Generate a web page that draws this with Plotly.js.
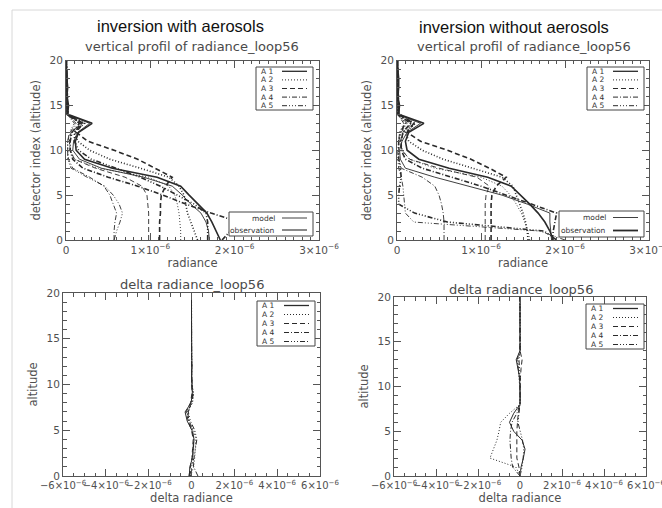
<!DOCTYPE html>
<html><head><meta charset="utf-8">
<script src="https://cdn.plot.ly/plotly-3.0.1.min.js"></script>
<style>html,body{margin:0;padding:0;background:#fff}#chart{width:662px;height:508px}</style>
</head><body><div id="chart"></div>
<script>
// ---------- DATA (radiance values in units of 1e-6) ----------
const altitudeIndex = [0,1,2,3,4,5,6,7,8,9,10,11,12,13,14,15,16,17,18,19,20];
const seriesNames = ["A 1","A 2","A 3","A 4","A 5"];
const kindNames = ["model","observation"];
const panelHeaders = ["inversion with aerosols","inversion without aerosols"];
const profileTitle = "vertical profil of radiance_loop56";
const deltaTitle = "delta radiance_loop56";
const unitScale = 1e-6;

// with aerosols – radiance profiles
const withAerObs_A1 = [1.83,1.78,1.73,1.67,1.56,1.46,1.36,1.08,0.55,0.22,0.12,0.11,0.15,0.31,0.02,0.03,0.01,0.02,0.01,0.00,0.01];
const withAerMod_A1 = [1.70,1.69,1.66,1.60,1.48,1.38,1.26,0.92,0.42,0.16,0.08,0.09,0.14,0.28,0.01,0.02,0.02,0.01,0.02,0.01,0.00];
const withAerObs_A2 = [1.56,1.52,1.48,1.44,1.42,1.40,1.34,1.22,0.88,0.52,0.28,0.14,0.10,0.22,0.03,0.01,0.02,0.01,0.00,0.01,0.00];
const withAerMod_A2 = [1.36,1.36,1.35,1.34,1.32,1.29,1.22,0.98,0.38,0.10,0.05,0.04,0.08,0.20,0.02,0.02,0.01,0.01,0.01,0.00,0.00];
const withAerObs_A3 = [1.11,1.11,1.11,1.12,1.12,1.13,1.18,1.26,1.05,0.85,0.57,0.26,0.12,0.20,0.02,0.02,0.01,0.01,0.01,0.01,0.00];
const withAerMod_A3 = [0.98,0.98,0.98,0.98,0.97,0.96,0.90,0.70,0.35,0.10,0.05,0.04,0.06,0.18,0.01,0.01,0.02,0.00,0.01,0.00,0.00];
const withAerObs_A4 = [1.85,1.95,2.05,1.72,1.42,1.15,0.85,0.50,0.20,0.08,0.05,0.05,0.07,0.16,0.01,0.02,0.01,0.01,0.00,0.00,0.00];
const withAerMod_A4 = [0.57,0.57,0.58,0.60,0.56,0.52,0.45,0.28,0.08,0.03,0.02,0.02,0.05,0.12,0.01,0.00,0.01,0.00,0.00,0.00,0.00];
const withAerObs_A5 = [1.68,1.68,1.68,1.66,1.52,1.32,1.12,0.88,0.58,0.30,0.15,0.10,0.10,0.18,0.02,0.01,0.01,0.01,0.00,0.01,0.00];
const withAerMod_A5 = [0.57,0.60,0.64,0.67,0.63,0.56,0.46,0.25,0.06,0.02,0.02,0.02,0.04,0.10,0.01,0.01,0.00,0.00,0.00,0.00,0.00];

// without aerosols – radiance profiles
const noAerObs_A1 = [1.86,1.82,1.76,1.68,1.58,1.47,1.36,1.08,0.62,0.26,0.12,0.10,0.14,0.32,0.02,0.03,0.01,0.02,0.02,0.01,0.01];
const noAerMod_A1 = [1.84,1.83,1.82,1.82,1.55,1.25,0.85,0.45,0.10,0.04,0.03,0.06,0.12,0.28,0.01,0.02,0.01,0.01,0.02,0.00,0.01];
const noAerObs_A2 = [1.56,1.55,1.53,1.50,1.46,1.42,1.38,1.25,0.90,0.55,0.30,0.14,0.10,0.22,0.03,0.01,0.02,0.01,0.00,0.01,0.00];
const noAerMod_A2 = [1.58,1.56,1.52,1.48,1.42,1.35,1.25,1.00,0.45,0.15,0.06,0.05,0.08,0.20,0.02,0.02,0.01,0.01,0.01,0.00,0.00];
const noAerObs_A3 = [1.12,1.12,1.12,1.12,1.12,1.13,1.18,1.30,1.10,0.88,0.60,0.28,0.12,0.20,0.02,0.02,0.01,0.01,0.01,0.01,0.00];
const noAerMod_A3 = [1.05,1.05,1.05,1.05,1.05,1.06,1.10,0.95,0.50,0.15,0.06,0.04,0.07,0.18,0.01,0.01,0.02,0.00,0.01,0.00,0.00];
const noAerObs_A4 = [1.85,1.86,1.88,1.90,1.60,1.30,1.00,0.65,0.30,0.10,0.05,0.05,0.07,0.16,0.01,0.02,0.01,0.01,0.00,0.00,0.00];
const noAerMod_A4 = [0.56,0.56,0.56,0.55,0.53,0.50,0.45,0.30,0.05,0.02,0.02,0.02,0.05,0.12,0.01,0.00,0.01,0.00,0.00,0.00,0.00];
const noAerObs_A5 = [1.90,1.75,0.60,0.21,0.02,0.02,0.03,0.05,0.04,0.02,0.02,0.02,0.04,0.10,0.01,0.01,0.00,0.00,0.00,0.00,0.00];
const noAerMod_A5 = [2.00,1.70,0.20,0.10,0.09,0.08,0.07,0.05,0.02,0.01,0.01,0.02,0.03,0.08,0.01,0.00,0.01,0.00,0.00,0.00,0.00];

// delta radiance (units of 1e-6)
const withAerDelta_A1 = [-0.10,-0.08,0.05,0.10,0.12,0.02,-0.20,-0.30,-0.02,0.04,0.02,0.01,0.02,0.01,0.00,0.01,0.00,0.00,0.00,0.00,0.00];
const withAerDelta_A2 = [-0.05,0.10,0.15,0.18,0.20,0.10,-0.10,-0.20,0.05,0.10,0.03,0.02,0.01,0.02,0.01,0.00,0.01,0.00,0.00,0.00,0.00];
const withAerDelta_A3 = [-0.12,-0.05,0.02,0.05,0.08,0.00,-0.15,-0.25,-0.05,0.02,0.00,0.01,0.00,0.01,0.00,0.00,0.00,0.00,0.00,0.00,0.00];
const withAerDelta_A4 = [0.30,0.10,0.05,0.08,0.10,0.05,-0.12,-0.18,0.00,0.06,0.01,0.00,0.02,0.00,0.01,0.00,0.00,0.00,0.00,0.00,0.00];
const withAerDelta_A5 = [-0.08,0.00,0.12,0.20,0.25,0.15,-0.05,-0.15,0.02,0.08,0.02,0.01,0.01,0.00,0.00,0.01,0.00,0.00,0.00,0.00,0.00];

const noAerDelta_A1 = [0.00,0.05,0.16,0.24,0.10,-0.30,-0.50,-0.30,0.00,0.01,0.00,-0.02,-0.10,-0.18,0.00,0.01,0.00,0.00,0.00,0.00,0.00];
const noAerDelta_A2 = [0.02,-0.20,-1.43,-1.25,-1.10,-1.00,-0.92,-0.50,0.00,0.01,-0.02,-0.05,-0.05,-0.10,0.02,0.01,0.00,0.00,0.00,0.00,0.00];
const noAerDelta_A3 = [0.00,-0.05,-0.15,-0.16,-0.16,-0.15,-0.12,-0.08,0.00,0.00,0.00,0.02,0.05,0.10,0.00,0.00,0.00,0.00,0.00,0.00,0.00];
const noAerDelta_A4 = [0.00,-0.35,-0.42,-0.45,-0.48,-0.45,-0.38,-0.15,0.00,0.01,0.00,-0.03,-0.08,-0.14,0.00,0.00,0.00,0.00,0.00,0.00,0.00];
const noAerDelta_A5 = [0.00,0.10,0.15,0.18,0.12,0.00,-0.10,-0.05,0.00,0.00,0.01,0.00,-0.02,-0.05,0.00,0.01,0.00,0.00,0.00,0.00,0.00];

// ---------- STYLES ----------
const W = 662, H = 508;
const ink = "#2a2a2a", axisGray = "#555", textGray = "#505050";
const dashes = ["solid","1px,2px","5px,3px","5px,2px,1px,2px","5px,2px,1px,2px,1px,2px,1px,2px"];
const px = v => v / W;
const py = v => 1 - v / H;

const traces = [];
function addSet(list, xa, ya, width) {
  list.forEach((vals, i) => {
    traces.push({
      type: "scatter", mode: "lines",
      x: vals.map(v => v * unitScale), y: altitudeIndex,
      xaxis: xa, yaxis: ya, showlegend: false, hoverinfo: "skip",
      line: {color: ink, width: width, dash: dashes[i]}
    });
  });
}
addSet([withAerMod_A1,withAerMod_A2,withAerMod_A3,withAerMod_A4,withAerMod_A5], "x", "y", 0.9);
addSet([withAerObs_A1,withAerObs_A2,withAerObs_A3,withAerObs_A4,withAerObs_A5], "x", "y", 1.6);
addSet([noAerMod_A1,noAerMod_A2,noAerMod_A3,noAerMod_A4,noAerMod_A5], "x2", "y2", 0.9);
addSet([noAerObs_A1,noAerObs_A2,noAerObs_A3,noAerObs_A4,noAerObs_A5], "x2", "y2", 1.6);
addSet([withAerDelta_A1,withAerDelta_A2,withAerDelta_A3,withAerDelta_A4,withAerDelta_A5], "x3", "y3", 1.0);
addSet([noAerDelta_A1,noAerDelta_A2,noAerDelta_A3,noAerDelta_A4,noAerDelta_A5], "x4", "y4", 1.0);

const tickFont = {family: "DejaVu Sans", size: 10.5, color: textGray};
const titleFont = {family: "DejaVu Sans", size: 11.5, color: textGray};
function xAxis(domain, range, dtick, minor, anchor, title, fsize) {
  return {domain: domain, range: range, anchor: anchor, dtick: dtick, tick0: 0,
    exponentformat: "power", showexponent: "all", tickangle: 0, ticklabeloverflow: "allow",
    ticks: "inside", ticklen: 7, tickcolor: axisGray, tickwidth: 1,
    minor: {ticks: "inside", ticklen: 3.5, dtick: minor, tick0: 0, tickcolor: axisGray, showgrid: false},
    showline: true, linecolor: axisGray, linewidth: 1, mirror: "ticks",
    showgrid: false, zeroline: false, tickfont: Object.assign({}, tickFont, {size: fsize}), fixedrange: true,
    title: {text: title, font: titleFont, standoff: 2}};
}
function yAxis(domain, anchor, title) {
  return {domain: domain, range: [0, 20], anchor: anchor, dtick: 5, tick0: 0,
    ticks: "inside", ticklen: 7, tickcolor: axisGray, tickwidth: 1,
    minor: {ticks: "inside", ticklen: 3.5, dtick: 1, tick0: 0, tickcolor: axisGray, showgrid: false},
    showline: true, linecolor: axisGray, linewidth: 1, mirror: "ticks",
    showgrid: false, zeroline: false, tickfont: tickFont, fixedrange: true,
    title: {text: title, font: titleFont, standoff: 6}};
}

const topY = [py(240), py(60.5)];
const layout = {
  width: W, height: H, margin: {l: 0, r: 0, t: 0, b: 0},
  paper_bgcolor: "#fff", plot_bgcolor: "#fff", showlegend: false,
  xaxis:  xAxis([px(66), px(319)], [0, 3e-6], 1e-6, 1e-7, "y", "radiance", 10.5),
  yaxis:  yAxis(topY, "x", "detector index (altitude)"),
  xaxis2: xAxis([px(397), px(649)], [0, 3e-6], 1e-6, 1e-7, "y2", "radiance", 10.5),
  yaxis2: yAxis(topY, "x2", "detector index (altitude)"),
  xaxis3: xAxis([px(63), px(320)], [-6e-6, 6e-6], 2e-6, 5e-7, "y3", "delta radiance", 10),
  yaxis3: yAxis([py(476), py(293)], "x3", "altitude"),
  xaxis4: xAxis([px(394), px(646)], [-6e-6, 6e-6], 2e-6, 5e-7, "y4", "delta radiance", 10),
  yaxis4: yAxis([py(476), py(297)], "x4", "altitude"),
  shapes: [], annotations: []
};

// page frame
layout.shapes.push({type: "line", xref: "paper", yref: "paper", x0: px(12), x1: 1, y0: py(10), y1: py(10), line: {color: "#d8d8d8", width: 1}});
layout.shapes.push({type: "line", xref: "paper", yref: "paper", x0: px(12), x1: px(12), y0: py(10), y1: 0, line: {color: "#d8d8d8", width: 1}});

// headers and subplot titles
function label(text, x, y, font, anchor) {
  layout.annotations.push({text: text, xref: "paper", yref: "paper", x: px(x), y: py(y),
    xanchor: anchor || "center", yanchor: "middle", showarrow: false, font: font});
}
const headFont = {family: "Liberation Sans", size: 16.5, color: "#111"};
const subFont = {family: "DejaVu Sans", size: 13, color: "#4a4a4a"};
label(panelHeaders[0], 180, 26, headFont);
label(panelHeaders[1], 514, 27, headFont);
label(profileTitle, 192, 46, subFont);
label(profileTitle, 524, 46, subFont);
label(deltaTitle, 192, 284, subFont);
label(deltaTitle, 521, 289, subFont);

// IDL-style legend boxes (text left, line sample right)
const legFont = {family: "DejaVu Sans", size: 7.5, color: "#333"};
function legendBox(x0, y0, x1, y1, names, styles, widths, align) {
  layout.shapes.push({type: "rect", xref: "paper", yref: "paper", x0: px(x0), x1: px(x1), y0: py(y0), y1: py(y1),
    line: {color: "#444", width: 1}, fillcolor: "#fff", layer: "above"});
  const n = names.length, step = (y1 - y0) / n;
  names.forEach((nm, i) => {
    const yc = y0 + step * (i + 0.5);
    const lx0 = x1 - 31, lx1 = x1 - 6;
    layout.shapes.push({type: "line", xref: "paper", yref: "paper", x0: px(lx0), x1: px(lx1), y0: py(yc), y1: py(yc),
      line: {color: ink, width: widths[i], dash: styles[i]}, layer: "above"});
    if (align === "right") label(nm, lx0 - 5, yc, legFont, "right");
    else label(nm, x0 + 3, yc, legFont, "left");
  });
}
const aWidths = [1.3,1,1,1,1];
legendBox(256, 67, 313, 110, seriesNames, dashes, aWidths, "left");
legendBox(587, 67, 644, 110, seriesNames, dashes, aWidths, "left");
legendBox(257, 301, 315, 346, seriesNames, dashes, aWidths, "left");
legendBox(586, 304, 644, 349, seriesNames, dashes, aWidths, "left");
legendBox(229, 212, 313, 236, kindNames, ["solid","solid"], [0.9, 1.1], "right");
legendBox(559, 211, 644, 237, kindNames, ["solid","solid"], [0.9, 1.8], "right");

Plotly.newPlot("chart", traces, layout, {staticPlot: true, displayModeBar: false});
</script>
</body></html>
